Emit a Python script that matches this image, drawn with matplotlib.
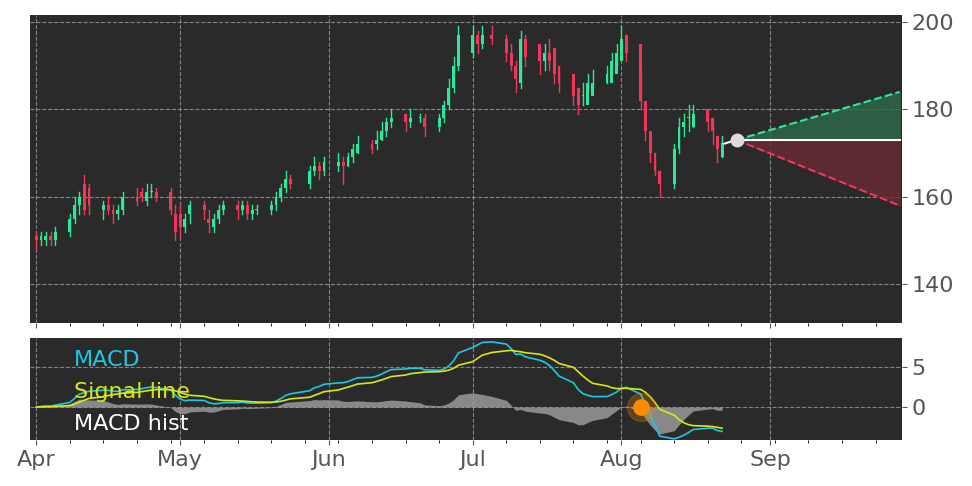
import matplotlib
matplotlib.use("Agg")
import matplotlib.pyplot as plt
import matplotlib.dates as mdates
import numpy as np
import pandas as pd

dates = pd.bdate_range("2024-04-01", "2024-08-22")
dates = dates.drop(pd.to_datetime(["2024-05-27", "2024-06-19", "2024-07-04"]))

opens = [151,150,150,151,150,152,155,158,163,162,157,158,157,156,157,160,161,159,161,161,161,156,
         156,153,156,158,155,153,155,157,158,157,158,156,157,157,158,160,162,164,163,166,167,166,
         167,168,167,169,170,172,172,173,175,177,179,177,178,178,176,178,181,185,190,
         193,197,195,197,196,193,190,186,196,195,191,193,194,190,188,185,183,181,183,186,186,188,
         191,197,195,182,175,170,166,163,171,176,178,176,180,178,174,169]
closes = [150,151,151,150,152,155,158,160,157,158,158,157,156,157,160,159,160,161,161,160,157,152,
          153,155,158,157,154,155,157,158,157,158,156,157,157,158,160,162,164,163,166,167,166,168,
          168,167,169,171,172,171,173,175,177,178,177,178,178,176,178,181,185,190,197,
          197,195,197,196,193,190,187,196,192,191,193,191,188,186,183,181,183,186,186,188,191,193,
          196,193,182,175,170,166,163,171,176,177,178,179,177,175,171,172]
highs = [152,152,152,152,153,156,160,161,165,163,159,160,158,158,161,162,162,163,163,162,162,158,
         158,156,159,159,157,156,158,159,159,159,159,158,158,159,161,163,166,165,167,169,168,169,
         170,169,170,172,174,173,175,177,178,180,179,180,179,179,179,182,187,192,199,
         199,198,199,199,197,195,191,198,197,194,195,196,192,190,187,185,186,188,189,190,193,195,
         199,197,189,178,172,170,166,172,178,179,181,181,180,177,172,174]
lows = [148,149,149,149,149,151,154,156,156,156,155,156,154,155,156,158,159,158,160,159,156,150,
        151,152,154,155,152,152,154,156,155,156,155,155,156,156,157,159,161,162,162,165,164,165,
        166,163,167,168,170,170,171,173,174,176,175,176,177,174,175,177,180,184,189,
        192,193,194,195,191,189,184,185,190,188,189,189,186,184,181,179,181,184,185,186,188,190,
        194,191,180,173,168,165,160,162,170,174,175,176,175,172,168,169]

fc_start = ("2024-08-25", 173.0)
fc_end = "2024-09-28"
fc_upper, fc_lower = 184.0, 158.0

s = pd.Series(closes, index=dates)
macd = s.ewm(span=12, adjust=False).mean() - s.ewm(span=26, adjust=False).mean()
signal = macd.ewm(span=9, adjust=False).mean()
hist = macd - signal

BG = "#2a2a2a"
GREEN, RED = "#2ee89a", "#f0365a"
fig = plt.figure(figsize=(9.72, 4.86), dpi=100, facecolor="white")
ax = fig.add_axes([30/972, 1-323/486, 872/972, 308/486], facecolor=BG)
ax2 = fig.add_axes([30/972, 1-440/486, 872/972, 102/486], facecolor=BG, sharex=ax)

x = mdates.date2num(dates)
w = 0.6
for xi, o, c, h, l in zip(x, opens, closes, highs, lows):
    col = GREEN if c >= o else RED
    ax.plot([xi, xi], [l, h], color=col, lw=1, zorder=2)
    ax.bar(xi, max(abs(c-o), 0.3), bottom=min(o, c), width=w, color=col, zorder=3)

x0 = mdates.datestr2num(fc_start[0]); x1 = mdates.datestr2num(fc_end)
y0 = fc_start[1]
ax.fill_between([x0, x1], [y0, y0], [y0, fc_upper], color="#2e6a4a", alpha=0.8, zorder=1)
ax.fill_between([x0, x1], [y0, y0], [y0, fc_lower], color="#6a2a33", alpha=0.8, zorder=1)
ax.plot([x0, x1], [y0, fc_upper], "--", color=GREEN, lw=1.5)
ax.plot([x0, x1], [y0, fc_lower], "--", color=RED, lw=1.5)
ax.plot([x0, x1], [y0, y0], color="white", lw=1.5)
ax.plot([mdates.date2num(dates[-1]), x0], [closes[-1], y0], color="white", lw=1.5)
ax.plot(x0, y0, "o", color="#dddddd", ms=9, zorder=5)

ax.set_ylim(131.1, 201.6)
ax.set_xlim(mdates.datestr2num("2024-03-30") + 0.7, mdates.datestr2num("2024-09-28") + 0.5)
ax.set_yticks([140, 160, 180, 200])

ax2.fill_between(x, 0, hist.values, color="#a0a0a0", alpha=0.8, lw=0)
ax2.plot(x, macd.values, color="#1ec8e0", lw=1.2)
ax2.plot(x, signal.values, color="#d8e614", lw=1.2)
# crossover point
sgn = np.sign(hist.values)
idx = [i for i in range(60, len(sgn)) if sgn[i] != sgn[i-1]]
if idx:
    ax2.plot(x[idx[-1]], 0, "o", color="#ff8c00", ms=11, zorder=5)
    ax2.plot(x[idx[-1]], 0, "o", color="#ff8c00", ms=20, alpha=0.25, zorder=4)
ax2.set_ylim(-4.1, 8.6)
ax2.set_yticks([0, 5])
ax2.text(0.05, 0.78, "MACD", color="#1ec8e0", fontsize=16, transform=ax2.transAxes, va="center")
ax2.text(0.05, 0.47, "Signal line", color="#d8e614", fontsize=16, transform=ax2.transAxes, va="center")
ax2.text(0.05, 0.16, "MACD hist", color="white", fontsize=16, transform=ax2.transAxes, va="center")

for a in (ax, ax2):
    a.yaxis.tick_right()
    a.tick_params(colors="#555555", labelcolor="#555555", labelsize=16, direction="out")
    a.grid(True, color="#aaaaaa", ls="--", lw=0.8, alpha=0.7)
    for sp in a.spines.values():
        sp.set_visible(False)
    a.set_axisbelow(True)
ax.tick_params(axis="x", labelbottom=False)
ax2.xaxis.set_major_locator(mdates.MonthLocator())
ax2.xaxis.set_major_formatter(mdates.DateFormatter("%b"))
ax.xaxis.set_minor_locator(mdates.WeekdayLocator(byweekday=mdates.MO))

fig.savefig("out.png", dpi=100, facecolor="white")
